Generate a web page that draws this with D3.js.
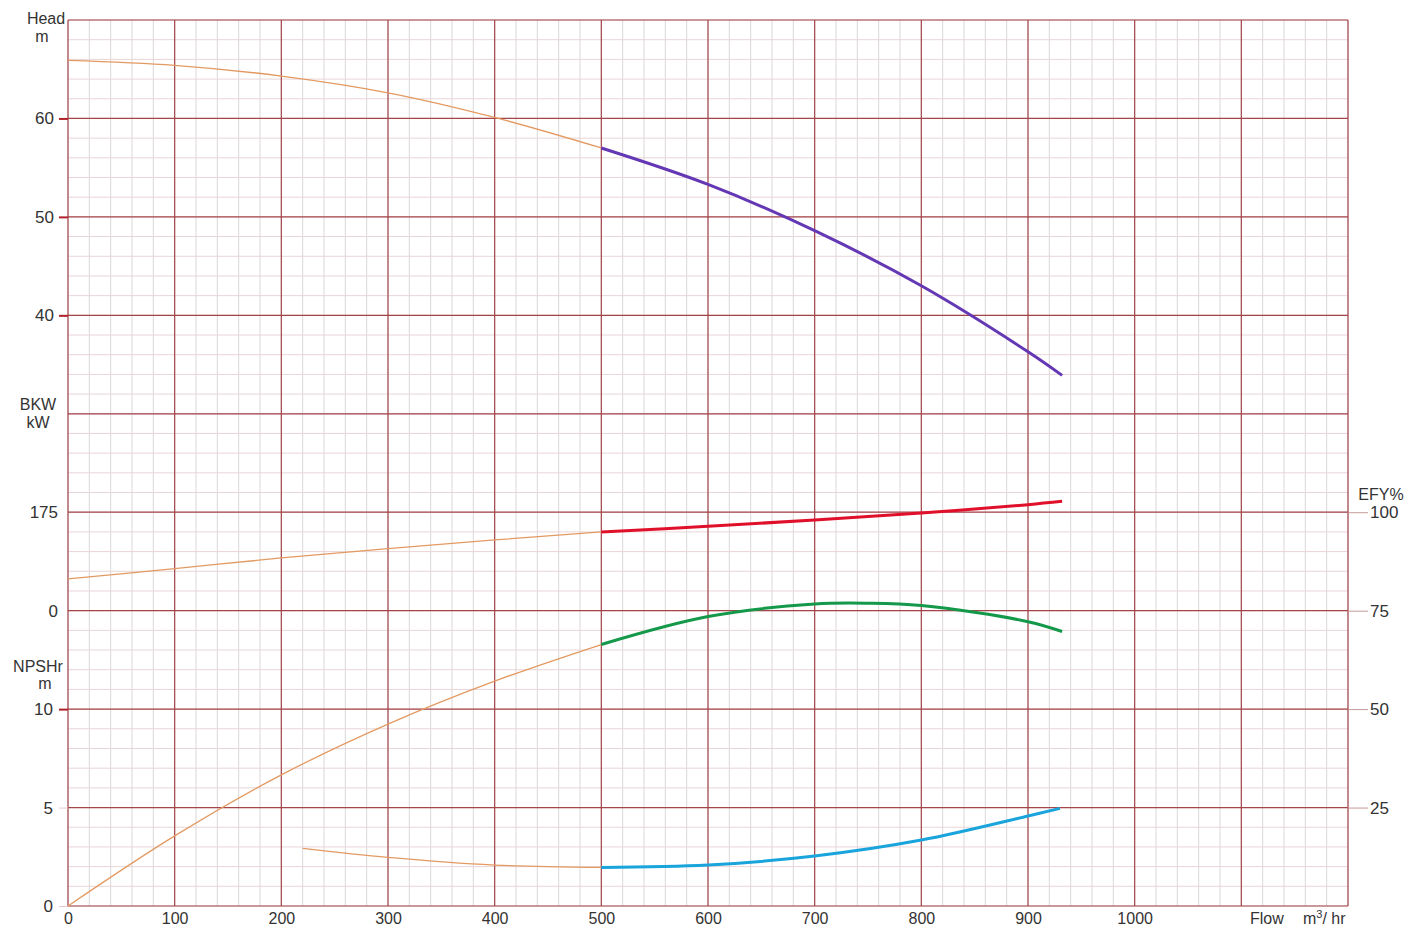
<!DOCTYPE html>
<html>
<head>
<meta charset="utf-8">
<script src="https://cdnjs.cloudflare.com/ajax/libs/d3/7.8.5/d3.min.js"></script>
<style>
  body { margin: 0; background: #fff; }
  text { font-family: "Liberation Sans", Arial, sans-serif; fill: #333; }
  .axis path.domain { display: none; }
</style>
</head>
<body>
<div id="chart"></div>
<script>
// flow values (m3/hr)
var headFlow = [0, 100, 200, 300, 400, 500, 600, 700, 800, 900, 932];
var headVals = [65.9, 65.4, 64.3, 62.6, 60.1, 57.0, 53.3, 48.6, 43.0, 36.3, 33.9];

var bkwFlow = [0, 100, 200, 300, 400, 500, 600, 700, 800, 900, 932];
var bkwVals = [56.4, 74.7, 93.7, 110.2, 125.7, 139.9, 149.9, 161.2, 173.7, 188.4, 194.3];

var effFlow = [0, 100, 200, 300, 400, 500, 600, 700, 750, 800, 900, 932];
var effVals = [0, 17.8, 33.3, 46.2, 57.1, 66.4, 73.5, 76.7, 76.9, 76.3, 72.2, 69.7];

var npshFlow = [220, 300, 400, 500, 600, 700, 800, 900, 930];
var npshVals = [2.93, 2.47, 2.08, 1.96, 2.08, 2.54, 3.35, 4.57, 4.96];

// tick labels
var flowTicks = [0, 100, 200, 300, 400, 500, 600, 700, 800, 900, 1000];
var headTicks = [40, 50, 60];
var bkwTicks = [0, 175];
var npshTicks = [0, 5, 10];
var effTicks = [25, 50, 75, 100];

var W = 1420, H = 929;
var plotL = 68, plotR = 1348, plotT = 20, plotB = 906;
var splitFlow = 500;

var svg = d3.select("#chart").append("svg")
  .attr("width", W)
  .attr("height", H);

var x = d3.scaleLinear().domain([0, 1200]).range([plotL, plotR]);
// 9 grid rows; every curve has its own scale on the same rows
var row = d3.scaleLinear().domain([0, 9]).range([plotB, plotT]);
var yHead = d3.scaleLinear().domain([-20, 70]).range([plotB, plotT]);
var yBkw = d3.scaleLinear().domain([-525, 1050]).range([plotB, plotT]);
var yNpsh = d3.scaleLinear().domain([0, 45]).range([plotB, plotT]);
var yEff = d3.scaleLinear().domain([0, 225]).range([plotB, plotT]);

// minor grid
var grid = svg.append("g");
grid.selectAll(".vminor")
  .data(d3.range(0, 1201, 20))
  .enter().append("line")
  .attr("x1", function (d) { return x(d); })
  .attr("x2", function (d) { return x(d); })
  .attr("y1", plotT).attr("y2", plotB)
  .attr("stroke", "#dcd6d8").attr("stroke-width", 1);
grid.selectAll(".hminor")
  .data(d3.range(0, 46, 1).map(function (d) { return d / 5; }))
  .enter().append("line")
  .attr("y1", function (d) { return row(d); })
  .attr("y2", function (d) { return row(d); })
  .attr("x1", plotL).attr("x2", plotR)
  .attr("stroke", "#e9d5d7").attr("stroke-width", 1);

// major grid
grid.selectAll(".vmajor")
  .data(d3.range(0, 1201, 100))
  .enter().append("line")
  .attr("x1", function (d) { return x(d); })
  .attr("x2", function (d) { return x(d); })
  .attr("y1", plotT).attr("y2", plotB)
  .attr("stroke", "#a4454a").attr("stroke-width", 1.2);
grid.selectAll(".hmajor")
  .data(d3.range(0, 10))
  .enter().append("line")
  .attr("y1", function (d) { return row(d); })
  .attr("y2", function (d) { return row(d); })
  .attr("x1", plotL).attr("x2", plotR)
  .attr("stroke", "#a4454a").attr("stroke-width", 1.2);

// axes
function styleAxis(g) {
  g.attr("class", "axis");
  g.selectAll("text").style("font-size", "17px").attr("fill", "#333");
  g.selectAll(".tick line").attr("stroke", "#a4454a");
}

var xAxis = svg.append("g")
  .attr("transform", "translate(0," + plotB + ")")
  .call(d3.axisBottom(x).tickValues(flowTicks).tickSize(0).tickPadding(7).tickFormat(d3.format("d")))
  .call(styleAxis);
xAxis.selectAll("text").style("font-size", "16px");

svg.append("g")
  .attr("transform", "translate(" + plotL + ",0)")
  .call(d3.axisLeft(yHead).tickValues(headTicks).tickSize(9).tickPadding(5))
  .call(styleAxis)
  .selectAll(".tick line").attr("stroke", "#b0222a").attr("stroke-width", 2);

svg.append("g")
  .attr("transform", "translate(" + plotL + ",0)")
  .call(d3.axisLeft(yBkw).tickValues(bkwTicks).tickSize(0).tickPadding(10))
  .call(styleAxis);

var npAxis = svg.append("g")
  .attr("transform", "translate(" + plotL + ",0)")
  .call(d3.axisLeft(yNpsh).tickValues(npshTicks).tickSize(9).tickPadding(6))
  .call(styleAxis);
npAxis.selectAll(".tick line")
  .attr("stroke", function (d) { return d == 10 ? "#b0222a" : "#e6c9c9"; })
  .attr("stroke-width", function (d) { return d == 10 ? 2 : 1; });

svg.append("g")
  .attr("transform", "translate(" + plotR + ",0)")
  .call(d3.axisRight(yEff).tickValues(effTicks).tickSize(20).tickPadding(2))
  .call(styleAxis)
  .selectAll(".tick line").attr("stroke", "#c59a9a");

// axis titles
var titles = [
  {t: "Head", x: 46, y: 24, a: "middle"},
  {t: "m", x: 42, y: 42, a: "middle"},
  {t: "BKW", x: 38, y: 410, a: "middle"},
  {t: "kW", x: 38, y: 428, a: "middle"},
  {t: "NPSHr", x: 38, y: 672, a: "middle"},
  {t: "m", x: 45, y: 689, a: "middle"},
  {t: "EFY%", x: 1381, y: 500, a: "middle"},
  {t: "Flow", x: 1250, y: 924, a: "start"}
];
svg.selectAll(".title")
  .data(titles)
  .enter().append("text")
  .attr("x", function (d) { return d.x; })
  .attr("y", function (d) { return d.y; })
  .attr("text-anchor", function (d) { return d.a; })
  .style("font-size", "16px")
  .text(function (d) { return d.t; });

var unit = svg.append("text")
  .attr("x", 1303).attr("y", 924)
  .style("font-size", "16px");
unit.append("tspan").text("m");
unit.append("tspan").attr("dy", -6).style("font-size", "11px").text("3");
unit.append("tspan").attr("dy", 6).text("/ hr");

// curves
function drawCurve(flows, vals, yScale, color, width) {
  var pts = flows.map(function (f, i) { return [f, vals[i]]; });
  var line = d3.line()
    .x(function (d) { return x(d[0]); })
    .y(function (d) { return yScale(d[1]); })
    .curve(d3.curveCatmullRom.alpha(0.5));
  var thin = pts.filter(function (d) { return d[0] <= splitFlow; });
  var thick = pts.filter(function (d) { return d[0] >= splitFlow; });
  if (thin.length > 1) {
    svg.append("path")
      .attr("d", line(thin))
      .attr("fill", "none")
      .attr("stroke", "#e39a62")
      .attr("stroke-width", 1.3);
  }
  svg.append("path")
    .attr("d", line(thick))
    .attr("fill", "none")
    .attr("stroke", color)
    .attr("stroke-width", width);
}

drawCurve(headFlow, headVals, yHead, "#6438b4", 3);
drawCurve(bkwFlow, bkwVals, yBkw, "#e0102a", 3);
drawCurve(effFlow, effVals, yEff, "#14984a", 3);
drawCurve(npshFlow, npshVals, yNpsh, "#19a4dc", 3);
</script>
</body>
</html>
